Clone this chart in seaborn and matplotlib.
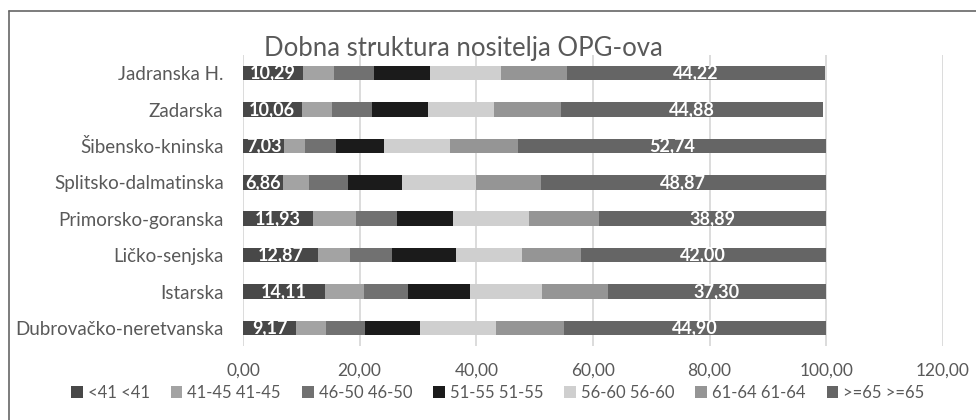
import matplotlib
matplotlib.use("Agg")
import matplotlib.pyplot as plt
from matplotlib.lines import Line2D
from matplotlib.patches import Patch
import numpy as np
import pandas as pd
import seaborn as sns

# Counties (top to bottom)
regions = [
    "Jadranska H.",
    "Zadarska",
    "Šibensko-kninska",
    "Splitsko-dalmatinska",
    "Primorsko-goranska",
    "Ličko-senjska",
    "Istarska",
    "Dubrovačko-neretvanska",
]

# Age groups of farm holders (share, %)
age_groups = ["<41", "41-45", "46-50", "51-55", "56-60", "61-64", ">=65"]

g_lt41 = [10.29, 10.06, 7.03, 6.86, 11.93, 12.87, 14.11, 9.17]
g_41_45 = [5.37, 5.14, 3.67, 4.44, 7.47, 5.48, 6.59, 5.03]
g_46_50 = [6.81, 7.00, 5.30, 6.66, 7.00, 7.25, 7.55, 6.80]
g_51_55 = [9.63, 9.50, 8.20, 9.34, 9.60, 10.90, 10.75, 9.30]
g_56_60 = [12.15, 11.40, 11.30, 12.60, 13.10, 11.30, 12.30, 13.10]
g_61_64 = [11.35, 11.40, 11.70, 11.16, 11.96, 10.10, 11.30, 11.66]
g_ge65 = [44.22, 44.88, 52.74, 48.87, 38.89, 42.00, 37.30, 44.90]

series = [g_lt41, g_41_45, g_46_50, g_51_55, g_56_60, g_61_64, g_ge65]
colors = ["#484848", "#a3a3a3", "#717171", "#1b1b1b", "#cfcfcf", "#959595", "#656565"]

x_ticks = [0, 20, 40, 60, 80, 100, 120]

text_color = "#595959"
font = ["Lato", "DejaVu Sans"]

sns.set_theme(style="white")
plt.rcParams["font.family"] = font

df = pd.DataFrame(np.array(series).T, columns=age_groups)
df.insert(0, "region", regions)
cum = df[age_groups].cumsum(axis=1)

fig = plt.figure(figsize=(9.76, 4.2), dpi=100)
ax = fig.add_axes([0.249, 0.176, 0.717, 0.693])

# Stacked bars: draw cumulative totals from the outermost segment inward
for grp, col in zip(reversed(age_groups), reversed(colors)):
    sns.barplot(
        x=cum[grp], y=df["region"], orient="h", color=col,
        width=0.4, ax=ax, saturation=1, linewidth=0, order=regions,
    )

ax.set_xlim(0, 120)
ax.set_xticks(x_ticks)
ax.set_xticklabels([f"{v:.2f}".replace(".", ",") for v in x_ticks])
ax.set_ylim(len(regions) - 0.5, -0.5)
ax.set_xlabel("")
ax.set_ylabel("")
ax.grid(axis="x", color="#d9d9d9", linewidth=1.3, zorder=0)
ax.set_axisbelow(True)
for s in ax.spines.values():
    s.set_visible(False)
ax.tick_params(axis="x", length=0, labelsize=12.5, labelcolor=text_color, pad=12)
ax.tick_params(axis="y", length=0, labelsize=13.5, labelcolor=text_color, pad=14)

# Value labels for the first and last age group
for i in range(len(regions)):
    first = g_lt41[i]
    ax.text(first / 2, i, f"{first:.2f}".replace(".", ","), ha="center", va="center",
            color="white", fontsize=13, fontweight="bold")
    start = cum[age_groups[-2]].iloc[i]
    last = g_ge65[i]
    ax.text(start + last / 2, i, f"{last:.2f}".replace(".", ","), ha="center", va="center",
            color="white", fontsize=13, fontweight="bold")

fig.text(0.475, 0.884, "Dobna struktura nositelja OPG-ova", ha="center", va="center",
         fontsize=18.5, color=text_color)

handles = [Patch(facecolor=c, edgecolor="none") for c in colors]
labels = [f"{g} {g}" for g in age_groups]
fig.legend(handles, labels, loc="center", bbox_to_anchor=(0.51, 0.064), ncol=7,
           frameon=False, fontsize=12, labelcolor=text_color,
           handlelength=0.7, handleheight=0.7, handletextpad=0.3, columnspacing=1.26)

# Chart frame
fig.add_artist(Line2D([8.5 / 976, 8.5 / 976], [0, 1 - 11 / 420], transform=fig.transFigure,
                      color="#666666", linewidth=1.2))
fig.add_artist(Line2D([8.5 / 976, 1], [1 - 11 / 420, 1 - 11 / 420], transform=fig.transFigure,
                      color="#666666", linewidth=1.2))

fig.savefig("out.png", dpi=100)
